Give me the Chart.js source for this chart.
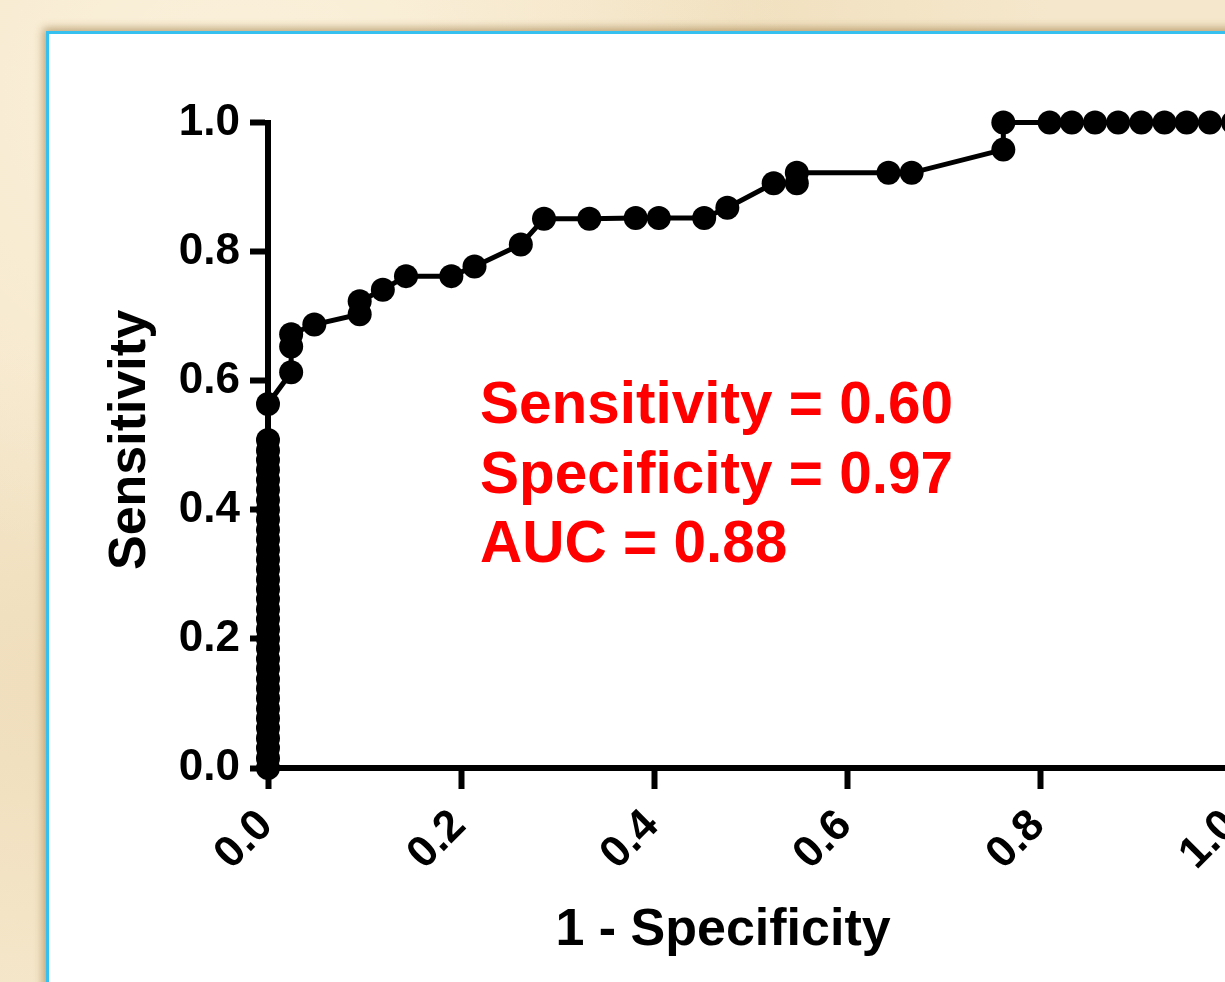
<!DOCTYPE html>
<html><head><meta charset="utf-8">
<script src="https://cdn.jsdelivr.net/npm/chart.js@4.4.1/dist/chart.umd.min.js"></script>
<style>
html,body{margin:0;padding:0;width:1225px;height:982px;overflow:hidden;background:#f6e9cf;}
#bg{position:absolute;left:0;top:0;width:1225px;height:982px;
  background:
   radial-gradient(ellipse at 20% 10%, rgba(255,248,230,0.6), rgba(255,248,230,0) 40%),
   radial-gradient(ellipse at 5% 70%, rgba(230,205,160,0.35), rgba(230,205,160,0) 35%),
   radial-gradient(ellipse at 60% 2%, rgba(235,215,175,0.4), rgba(235,215,175,0) 30%),
   #f5e7cb;}
#panel{position:absolute;left:46px;top:31px;width:1300px;height:1100px;background:#fff;
  border-top:3px solid #35c0f0;border-left:3px solid #35c0f0;
  box-shadow:-3px -3px 8px rgba(150,115,60,0.45), 0 0 10px rgba(150,115,60,0.3);}
#wrap{position:absolute;left:0;top:0;width:1300px;height:982px;}
</style></head>
<body>
<div id="bg"></div>
<div id="panel"></div>
<div id="wrap"><canvas id="c" width="1300" height="982"></canvas></div>
<script>
// 1 - Specificity (x) for each ROC point
const fpr = [
  0,0,0,0,0,0,0,0,0,0,0,0,0,0,0,0,0,0,0,0,0,0,0,0,0,0,0,0,0,0,0,0,0,0,
  0, 0.024, 0.024, 0.024, 0.048, 0.095, 0.095, 0.119, 0.143, 0.190, 0.214, 0.262,
  0.286, 0.333, 0.381, 0.405, 0.452, 0.476, 0.524, 0.548, 0.548, 0.643, 0.667,
  0.762, 0.762, 0.810, 0.833, 0.857, 0.881, 0.905, 0.929, 0.952, 0.976, 1.0
];
// Sensitivity (y) for each ROC point
const tpr = [
  0, 0.015, 0.031, 0.046, 0.062, 0.077, 0.092, 0.108, 0.123, 0.138, 0.154, 0.169,
  0.185, 0.200, 0.215, 0.231, 0.246, 0.262, 0.277, 0.292, 0.308, 0.323, 0.338, 0.354,
  0.369, 0.385, 0.400, 0.415, 0.431, 0.446, 0.462, 0.477, 0.492, 0.508,
  0.564, 0.613, 0.653, 0.672, 0.687, 0.703, 0.723, 0.741, 0.762, 0.762, 0.777, 0.811,
  0.851, 0.851, 0.852, 0.852, 0.852, 0.868, 0.906, 0.906, 0.922, 0.922, 0.922,
  0.958, 1.0, 1.0, 1.0, 1.0, 1.0, 1.0, 1.0, 1.0, 1.0, 1.0
];
const xTickLabels = ['0.0','0.2','0.4','0.6','0.8','1.0'];
const yTickLabels = ['0.0','0.2','0.4','0.6','0.8','1.0'];
const xTitle = '1 - Specificity';
const yTitle = 'Sensitivity';
const statLines = ['Sensitivity = 0.60', 'Specificity = 0.97', 'AUC = 0.88'];

const FONT = '"Liberation Sans", Arial, Helvetica, sans-serif';

const textPlugin = {
  id: 'texts',
  afterDraw(chart) {
    const ctx = chart.ctx;
    ctx.save();
    ctx.fillStyle = '#000';
    ctx.font = 'bold 52px ' + FONT;
    ctx.textAlign = 'center';
    ctx.textBaseline = 'alphabetic';
    ctx.fillText(xTitle, 723, 945);
    ctx.save();
    ctx.translate(145, 440);
    ctx.rotate(-Math.PI / 2);
    ctx.fillText(yTitle, 0, 0);
    ctx.restore();
    ctx.fillStyle = '#ff0000';
    ctx.font = 'bold 58.5px ' + FONT;
    ctx.textAlign = 'left';
    const base = [423, 493, 562];
    statLines.forEach((t, i) => ctx.fillText(t, 480, base[i]));
    ctx.restore();
  }
};

const points = fpr.map((x, i) => ({x: x, y: tpr[i]}));

new Chart(document.getElementById('c'), {
  type: 'line',
  data: {
    datasets: [{
      data: points,
      borderColor: '#000',
      borderWidth: 5,
      backgroundColor: '#000',
      pointRadius: 12,
      pointHoverRadius: 12,
      pointBackgroundColor: '#000',
      pointBorderColor: '#000',
      pointBorderWidth: 0,
      tension: 0,
      clip: false
    }]
  },
  options: {
    responsive: false,
    animation: false,
    events: [],
    layout: { padding: { top: 122.5, right: 67, left: 0, bottom: 0 } },
    plugins: { legend: { display: false }, tooltip: { enabled: false } },
    scales: {
      x: {
        type: 'linear', min: 0, max: 1,
        afterFit(s) { s.height = 214; },
        afterBuildTicks(s) { s.ticks = xTickLabels.map(l => ({value: parseFloat(l)})); },
        grid: { display: true, drawOnChartArea: false, drawTicks: true, tickLength: 21, tickWidth: 6, tickColor: '#000' },
        border: { display: true, width: 6, color: '#000' },
        ticks: {
          minRotation: 45, maxRotation: 45, padding: 11, labelOffset: -2,
          color: '#000', font: { family: FONT, size: 44, weight: 'bold' },
          callback: (v, i) => xTickLabels[i]
        }
      },
      y: {
        type: 'linear', min: 0, max: 1,
        afterFit(s) { s.width = 268; },
        afterBuildTicks(s) { s.ticks = yTickLabels.map(l => ({value: parseFloat(l)})); },
        grid: { display: true, drawOnChartArea: false, drawTicks: true, tickLength: 18, tickWidth: 6, tickColor: '#000' },
        border: { display: true, width: 6, color: '#000' },
        ticks: {
          padding: 10, color: '#000', font: { family: FONT, size: 44, weight: 'bold' },
          callback: (v, i) => yTickLabels[i]
        }
      }
    }
  },
  plugins: [textPlugin]
});
</script>
</body></html>
